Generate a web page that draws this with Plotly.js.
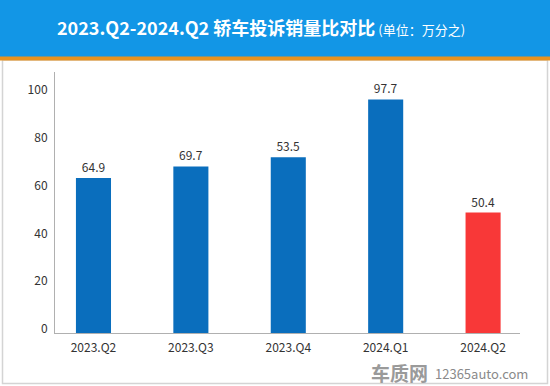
<!DOCTYPE html>
<html>
<head>
<meta charset="utf-8">
<script src="https://cdn.plot.ly/plotly-3.0.1.min.js"></script>
<style>html,body{margin:0;padding:0;background:#fff;}#chart{width:550px;height:386px;}</style>
</head>
<body>
<div id="chart"></div>
<script>
const categories = ["2023.Q2", "2023.Q3", "2023.Q4", "2024.Q1", "2024.Q2"];
const barHeights = [64.9, 69.7, 73.5, 97.7, 50.4];
const barLabels = ["64.9", "69.7", "53.5", "97.7", "50.4"];
const barColors = ["#0a6ebd", "#0a6ebd", "#0a6ebd", "#0a6ebd", "#f83838"];
const yTicks = [0, 20, 40, 60, 80, 100];

const W = 550, H = 386, mL = 55, mR = 30, mT = 72, mB = 53;
const pw = W - mL - mR, ph = H - mT - mB;
const px = x => (x - mL) / pw;
const py = y => (H - mB - y) / ph;

const font = '"Noto Sans CJK SC", "Noto Sans", sans-serif';

const trace = {
  type: 'bar',
  x: [0, 1, 2, 3, 4],
  y: barHeights,
  text: barLabels,
  textposition: 'outside',
  textfont: {family: font, size: 12, color: '#333'},
  cliponaxis: false,
  marker: {color: barColors, line: {width: 0}},
  width: 0.36,
  hoverinfo: 'none'
};

const layout = {
  width: W, height: H,
  margin: {l: mL, r: mR, t: mT, b: mB, pad: 0},
  paper_bgcolor: '#fff', plot_bgcolor: '#fff',
  showlegend: false,
  font: {family: font, size: 12, color: '#333'},
  title: {
    text: '<b>2023.Q2-2024.Q2 轿车投诉销量比对比</b><span style="font-size:13px"> (单位：万分之)</span>',
    font: {family: font, size: 18, color: '#fff'},
    x: 261 / W, xanchor: 'center', xref: 'container',
    y: 1 - 29 / H, yanchor: 'middle', yref: 'container'
  },
  xaxis: {
    range: [-0.395, 4.379],
    tickvals: [0, 1, 2, 3, 4],
    ticktext: categories,
    showgrid: false, zeroline: false,
    showline: true, linecolor: '#b0b0b0', linewidth: 1,
    ticks: '', tickfont: {family: font, size: 12, color: '#333'},
    ticklabelstandoff: 4,
    fixedrange: true
  },
  yaxis: {
    range: [0, 109.2],
    tickvals: yTicks,
    showgrid: false, zeroline: false,
    showline: true, linecolor: '#b0b0b0', linewidth: 1,
    ticks: '', tickfont: {family: font, size: 12, color: '#333'},
    ticklabelshift: -4,
    ticklabelstandoff: 4,
    fixedrange: true
  },
  shapes: [
    {type: 'rect', xref: 'paper', yref: 'paper', x0: px(2.5), x1: px(547.5), y0: py(383.5), y1: py(60),
     line: {color: '#d4d4d4', width: 1.5}, fillcolor: 'rgba(0,0,0,0)', layer: 'below'},
    {type: 'rect', xref: 'paper', yref: 'paper', x0: px(0), x1: px(550), y0: py(57), y1: py(0),
     line: {width: 0}, fillcolor: '#1296e6', layer: 'below'},
    {type: 'rect', xref: 'paper', yref: 'paper', x0: px(0), x1: px(550), y0: py(60.5), y1: py(56.5),
     line: {width: 0}, fillcolor: '#e8921e', layer: 'below'}
  ],
  annotations: [
    {xref: 'paper', yref: 'paper', x: px(430), y: py(372), xanchor: 'right', yanchor: 'middle',
     text: '<b>车质网</b>', showarrow: false, font: {family: font, size: 19, color: '#9a9a9a'}},
    {xref: 'paper', yref: 'paper', x: px(433), y: py(373), xanchor: 'left', yanchor: 'middle',
     text: '12365auto.com', showarrow: false, font: {family: font, size: 13, color: '#8a8a8a'}}
  ]
};

Plotly.newPlot('chart', [trace], layout, {displayModeBar: false, staticPlot: true});
</script>
</body>
</html>
